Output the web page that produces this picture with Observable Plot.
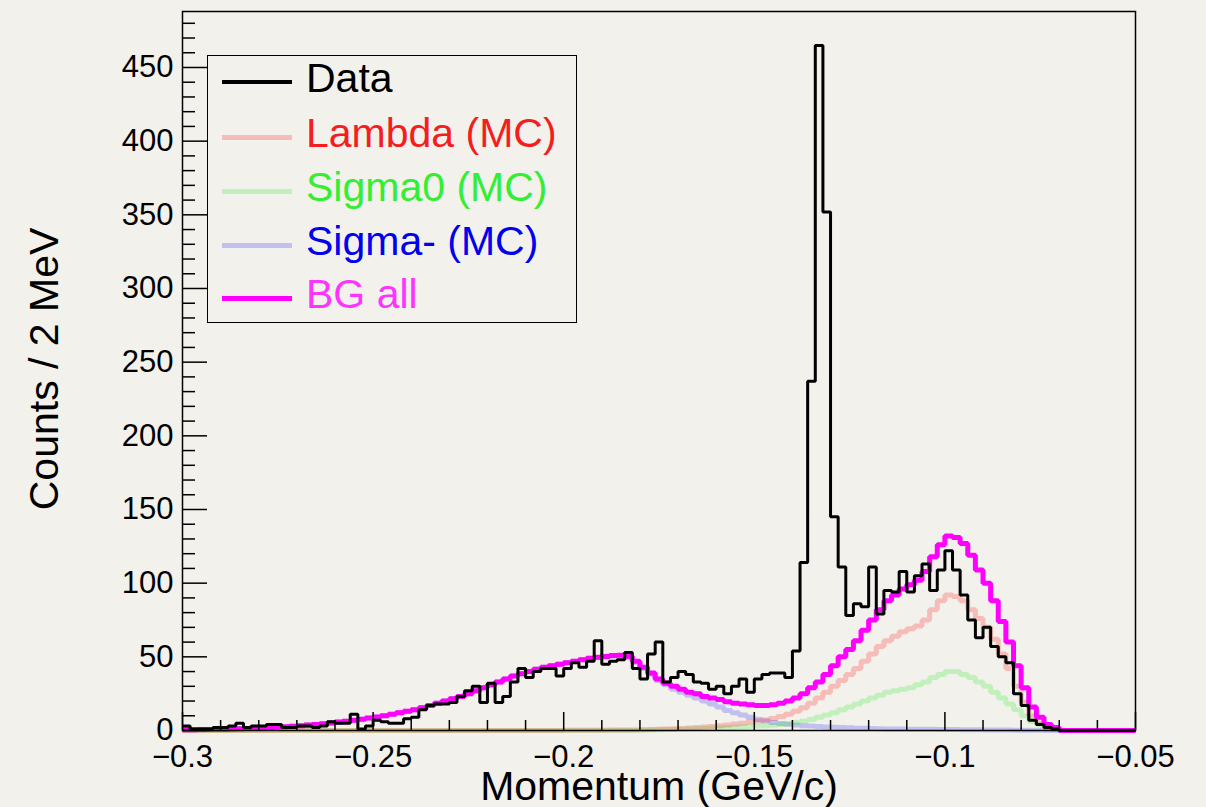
<!DOCTYPE html>
<html>
<head>
<meta charset="utf-8">
<script src="https://cdn.jsdelivr.net/npm/d3@7"></script>
<script src="https://cdn.jsdelivr.net/npm/@observablehq/plot@0.6"></script>
<style>
html, body { margin: 0; padding: 0; background: #f3f1ec; }
#wrap { position: relative; width: 1206px; height: 807px; overflow: hidden; font-family: "Liberation Sans", Arial, Helvetica, sans-serif; }
#legend { position: absolute; left: 207px; top: 55px; width: 370px; height: 268px; border: 1.5px solid #000; box-sizing: border-box; background: #f3f1ec; }
.sw { position: absolute; left: 14px; width: 70px; }
.lab { position: absolute; left: 98px; font-size: 41px; line-height: 41px; white-space: nowrap; }
</style>
</head>
<body>
<div id="wrap"><div id="chart"></div><div id="legend"></div></div>
<script>
// ---- Data (counts per 2 MeV bin, 125 bins from -0.3 to -0.05 GeV/c) ----
const xStart = -0.3, xEnd = -0.05, binWidth = 0.002;

const dataCounts = [
  3,1,1,1,2,2,3,5,2,3,
  3,4,4,2,2,3,3,2,3,6,
  5,5,11,1,3,7,6,5,5,8,
  9,14,17,18,18,19,23,27,30,19,
  32,19,23,33,42,36,40,42,42,37,
  42,46,43,47,61,45,47,48,53,42,
  35,52,60,33,36,40,38,33,32,28,
  30,25,30,35,26,35,38,39,39,36,
  54,114,237,465,352,145,111,78,86,84,
  111,79,95,94,108,94,105,113,95,109,
  122,109,92,75,63,70,57,50,46,25,
  17,7,4,2,1,0,0,0,0,0,
  0,0,0,0,0
];

const lambdaMC = [
  0,0,0,0,0,0,0,0,0,0,
  0,0,0,0,0,0,0,0,0,0,
  0,0,0,0,0,0,0,0,0,0,
  0,0,0,0,0,0,0,0,0,0,
  0,0,0,0,0,0,0,0,0,0,
  0.1,0.1,0.1,0.2,0.2,0.2,0.3,0.3,0.4,0.4,
  0.5,0.6,0.8,1,1.2,1.4,1.7,2,2.3,2.7,
  3.2,3.8,4.4,5,5.7,6.4,7.2,8.2,9.5,11,
  13,15.5,18.5,22,26,30,34,38,42,47,
  52,57,61,64,67,69,71,75,82,88,
  92,91,88,82,76,70,62,52,42,30,
  19,10,5,2,1,0,0,0,0,0,
  0,0,0,0,0
];

const sigma0MC = [
  0,0,0,0,0,0,0,0,0,0,
  0,0,0,0,0,0,0,0,0,0,
  0,0,0,0,0,0,0,0,0,0,
  0,0,0,0,0,0,0,0,0,0,
  0,0,0,0,0,0,0,0,0,0,
  0.1,0.1,0.1,0.1,0.1,0.1,0.2,0.2,0.2,0.2,
  0.3,0.4,0.5,0.6,0.7,0.8,1,1.2,1.4,1.6,
  1.8,2,2.2,2.4,2.7,3,3.3,3.6,4,4.6,
  5.4,6.3,7.5,9,10.5,12,14,16,18,20,
  22,24,26,27,28,29,31,33,36,38,
  40,40,38,36,33,30,26,22,18,14,
  10,6,4,2,1,0,0,0,0,0,
  0,0,0,0,0
];

const sigmaMinusMC = [
  0.5,0.5,0.6,0.7,0.8,0.9,1.0,1.2,1.4,1.6,
  1.8,2.0,2.3,2.6,2.9,3.3,3.7,4.1,4.6,5.1,
  5.7,6.3,7.0,7.7,8.4,9.2,10,11,12,13,
  14,15.5,17,18.5,20,21.5,23,25,27,29,
  31,33,35,37,38.5,40,41.5,43,44,45,
  46,47,48,49,49.5,50,50.5,50.5,49.5,46,
  42,38,34,31,28,26,24,22,20,18,
  16,13.5,12,10.5,9,7.5,6.5,5.5,4.8,4.2,
  3.7,3.3,3,2.7,2.4,2.2,2,1.8,1.6,1.5,
  1.3,1.2,1.1,1,1,0.9,0.9,0.8,0.8,0.7,
  0.6,0.6,0.5,0.5,0.5,0.4,0.4,0.3,0.3,0.2,
  0.2,0.1,0.1,0,0,0,0,0,0,0,
  0,0,0,0,0
];

const bgAll = [
  0.5,0.5,0.6,0.7,0.8,0.9,1.0,1.2,1.4,1.6,
  1.8,2.0,2.3,2.6,2.9,3.3,3.7,4.1,4.6,5.1,
  5.7,6.3,7.0,7.7,8.4,9.2,10,11,12,13,
  14,15.5,17,18.5,20,21.5,23,25,27,29,
  31,33,35,37,38.5,40,41.5,43,44,45,
  46,47,48,49,49.7,50.3,50.9,51,50.4,47,
  43,39,35,32,30,28,26,25,23,22,
  21,19.5,18.5,18,17.5,17,17,17.5,18.5,20,
  22,25,29,33,38,44,50,55,61,68,
  75,82,88,92,96,99,102,108,118,126,
  132,131,127,119,109,100,88,74,60,44,
  29,16,9,4,2,0,0,0,0,0,
  0,0,0,0,0
];

// ---- Axis ticks ----
const xMajorTicks = [-0.3, -0.25, -0.2, -0.15, -0.1, -0.05];
const xTickLabels = ["\u22120.3", "\u22120.25", "\u22120.2", "\u22120.15", "\u22120.1", "\u22120.05"];
const xMinorTicks = [-0.29,-0.28,-0.27,-0.26,-0.24,-0.23,-0.22,-0.21,-0.19,-0.18,-0.17,-0.16,-0.14,-0.13,-0.12,-0.11,-0.09,-0.08,-0.07,-0.06];
const yMajorTicks = [0, 50, 100, 150, 200, 250, 300, 350, 400, 450];
const yTickLabels = ["0", "50", "100", "150", "200", "250", "300", "350", "400", "450"];
const yMinorTicks = d3.range(10, 481, 10).filter(v => v % 50 !== 0);

const xLabel = "Momentum (GeV/c)";
const yLabel = "Counts / 2 MeV";

const seriesNames = ["Data", "Lambda (MC)", "Sigma0 (MC)", "Sigma- (MC)", "BG all"];
const lineColors = ["#000000", "#ff0000", "#00ee00", "#0000ff", "#ff00ff"];
const textColors = ["#000000", "#f51d1d", "#33ee33", "#0000ee", "#ff33ff"];
const lineOpacity = [1, 0.22, 0.2, 0.2, 1];

// ---- Build step rows ----
function steps(values) {
  const rows = values.map((v, i) => ({x: xStart + i * binWidth, y: v}));
  rows.push({x: xEnd, y: values[values.length - 1]});
  return rows;
}

const W = 1206, H = 807, mL = 182, mR = 71, mT = 11, mB = 77;
const frameW = W - mL - mR, frameH = H - mT - mB;
const xFmt = new Map(xMajorTicks.map((v, i) => [v, xTickLabels[i]]));
const yFmt = new Map(yMajorTicks.map((v, i) => [v, yTickLabels[i]]));

const lineOpts = {x: "x", y: "y", curve: "step-after", strokeLinejoin: "miter", strokeLinecap: "butt"};

const chart = Plot.plot({
  width: W, height: H,
  marginLeft: mL, marginRight: mR, marginTop: mT, marginBottom: mB,
  style: {background: "transparent", fontFamily: "Liberation Sans, Arial, Helvetica, sans-serif", color: "#000", overflow: "visible"},
  x: {domain: [xStart, xEnd]},
  y: {domain: [0, 488]},
  marks: [
    Plot.line(steps(sigmaMinusMC), {...lineOpts, stroke: lineColors[3], strokeOpacity: lineOpacity[3], strokeWidth: 5}),
    Plot.line(steps(sigma0MC), {...lineOpts, stroke: lineColors[2], strokeOpacity: lineOpacity[2], strokeWidth: 5}),
    Plot.line(steps(lambdaMC), {...lineOpts, stroke: lineColors[1], strokeOpacity: lineOpacity[1], strokeWidth: 5}),
    Plot.line(steps(bgAll), {...lineOpts, stroke: lineColors[4], strokeWidth: 5}),
    Plot.line(steps(dataCounts), {...lineOpts, stroke: lineColors[0], strokeWidth: 3}),
    Plot.frame({stroke: "#000", strokeWidth: 1.5}),
    Plot.tickX(xMinorTicks, {x: d => d, stroke: "#000", strokeWidth: 1.5, insetTop: frameH - 10}),
    Plot.tickX(xMajorTicks, {x: d => d, stroke: "#000", strokeWidth: 1.5, insetTop: frameH - 18}),
    Plot.tickY(yMinorTicks, {y: d => d, stroke: "#000", strokeWidth: 1.5, insetRight: frameW - 13}),
    Plot.tickY(yMajorTicks, {y: d => d, stroke: "#000", strokeWidth: 1.5, insetRight: frameW - 25}),
    Plot.axisX({ticks: xMajorTicks, tickSize: 0, tickPadding: 14, tickFormat: d => xFmt.get(d), fontSize: 31, label: null}),
    Plot.axisY({ticks: yMajorTicks, tickSize: 0, tickPadding: 9, tickFormat: d => yFmt.get(d), fontSize: 31, label: null}),
    Plot.text([yLabel], {text: d => d, frameAnchor: "left", textAnchor: "middle", lineAnchor: "middle", rotate: -90, dx: -138, dy: -2, fontSize: 41, fill: "#000"}),
    Plot.text([xLabel], {text: d => d, frameAnchor: "bottom", textAnchor: "middle", lineAnchor: "middle", dy: 56, fontSize: 41, fill: "#000"})
  ]
});
document.getElementById("chart").appendChild(chart);

// ---- Legend (HTML overlay inside the frame) ----
const legend = document.getElementById("legend");
const rowCenters = [26, 81, 135, 189, 242];
const swatchWidths = [3.5, 5, 5, 5, 5];
seriesNames.forEach((name, i) => {
  const sw = document.createElement("div");
  sw.className = "sw";
  sw.style.top = (rowCenters[i] - swatchWidths[i] / 2) + "px";
  sw.style.height = swatchWidths[i] + "px";
  sw.style.background = lineColors[i];
  sw.style.opacity = lineOpacity[i];
  legend.appendChild(sw);
  const lab = document.createElement("div");
  lab.className = "lab";
  lab.textContent = name;
  lab.style.color = textColors[i];
  lab.style.top = (rowCenters[i] - 24) + "px";
  legend.appendChild(lab);
});
</script>
</body>
</html>
